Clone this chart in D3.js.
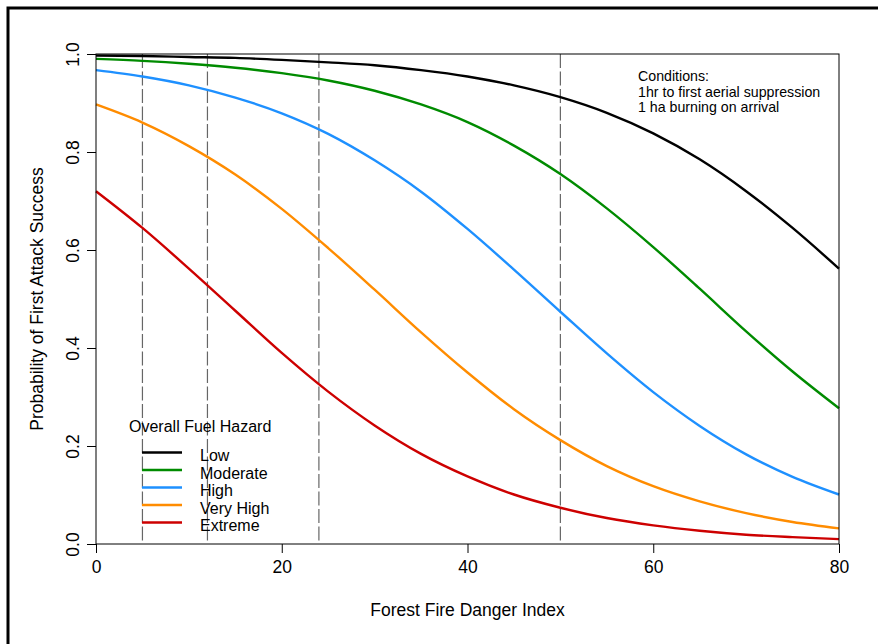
<!DOCTYPE html>
<html>
<head>
<meta charset="utf-8">
<script src="https://cdn.jsdelivr.net/npm/d3@7"></script>
<style>
  body { margin: 0; background: #fff; }
  svg { display: block; font-family: "Liberation Sans", Arial, sans-serif; }
</style>
</head>
<body>
<svg id="chart" width="878" height="644"></svg>
<script>
// FFDI sample points and probability of first attack success
const ffdi = [0, 5, 10, 15, 20, 25, 30, 35, 40, 45, 50, 55, 60, 65, 70, 75, 80];
const low = [0.997, 0.996, 0.994, 0.992, 0.988, 0.983, 0.977, 0.967, 0.954, 0.936, 0.912, 0.880, 0.838, 0.785, 0.720, 0.645, 0.562];
const moderate = [0.990, 0.986, 0.980, 0.972, 0.961, 0.946, 0.925, 0.897, 0.861, 0.813, 0.755, 0.685, 0.606, 0.521, 0.434, 0.352, 0.277];
const high = [0.967, 0.954, 0.936, 0.911, 0.879, 0.837, 0.783, 0.719, 0.643, 0.560, 0.474, 0.389, 0.310, 0.241, 0.183, 0.137, 0.101];
const veryHigh = [0.897, 0.860, 0.812, 0.754, 0.684, 0.604, 0.519, 0.432, 0.350, 0.275, 0.212, 0.159, 0.118, 0.087, 0.063, 0.045, 0.032];
const extreme = [0.720, 0.645, 0.562, 0.476, 0.390, 0.311, 0.242, 0.184, 0.138, 0.101, 0.074, 0.053, 0.038, 0.027, 0.019, 0.014, 0.010];

const seriesNames = ['Low', 'Moderate', 'High', 'Very High', 'Extreme'];
const seriesColors = ['#000000', '#008B00', '#1E90FF', '#FF8C00', '#CD0000'];
const seriesValues = [low, moderate, high, veryHigh, extreme];

const refLines = [5, 12, 24, 50];
const xTicks = [0, 20, 40, 60, 80];
const yTicks = [0, 0.2, 0.4, 0.6, 0.8, 1.0];
const conditions = ['Conditions:', '1hr to first aerial suppression', '1 ha burning on arrival'];

const svg = d3.select('#chart');

// outer frame (only top and left edges fall inside the picture)
svg.append('rect')
  .attr('x', 8).attr('y', 8)
  .attr('width', 1000).attr('height', 1000)
  .attr('fill', 'none')
  .attr('stroke', '#000')
  .attr('stroke-width', 3);

const x = d3.scaleLinear().domain([0, 80]).range([96, 839]);
const y = d3.scaleLinear().domain([0, 1]).range([544, 54]);

// dashed reference lines
svg.append('g')
  .selectAll('line')
  .data(refLines)
  .join('line')
  .attr('x1', d => x(d)).attr('x2', d => x(d))
  .attr('y1', y(1)).attr('y2', y(0))
  .attr('stroke', '#666')
  .attr('stroke-width', 1.2)
  .attr('stroke-dasharray', '14,3.5');

// curves
const line = d3.line()
  .x((d, i) => x(ffdi[i]))
  .y(d => y(d))
  .curve(d3.curveMonotoneX);

seriesValues.forEach((vals, i) => {
  svg.append('path')
    .datum(vals)
    .attr('fill', 'none')
    .attr('stroke', seriesColors[i])
    .attr('stroke-width', 2.4)
    .attr('d', line);
});

// box
svg.append('rect')
  .attr('x', x(0)).attr('y', y(1))
  .attr('width', x(80) - x(0)).attr('height', y(0) - y(1))
  .attr('fill', 'none')
  .attr('stroke', '#000')
  .attr('stroke-width', 1);

// axes
const xAxis = svg.append('g')
  .attr('transform', `translate(0,${y(0)})`)
  .call(d3.axisBottom(x).tickValues(xTicks).tickSize(9).tickPadding(8).tickFormat(d3.format('d')));
xAxis.select('.domain').remove();
xAxis.selectAll('text')
  .attr('font-size', '17.5px')
  .attr('font-family', '"Liberation Sans", Arial, sans-serif')
  .attr('fill', '#000');

const yAxis = svg.append('g')
  .attr('transform', `translate(${x(0)},0)`)
  .call(d3.axisLeft(y).tickValues(yTicks).tickSize(9).tickFormat(d3.format('.1f')));
yAxis.select('.domain').remove();
yAxis.selectAll('text')
  .attr('font-size', '17.5px')
  .attr('font-family', '"Liberation Sans", Arial, sans-serif')
  .attr('fill', '#000')
  .attr('text-anchor', 'middle')
  .attr('dy', null)
  .attr('x', null)
  .attr('transform', 'translate(-17,0) rotate(-90)');

// axis titles
svg.append('text')
  .attr('x', (x(0) + x(80)) / 2)
  .attr('y', 616)
  .attr('text-anchor', 'middle')
  .attr('font-size', '17.5px')
  .text('Forest Fire Danger Index');

svg.append('text')
  .attr('transform', `translate(43,${(y(0) + y(1)) / 2}) rotate(-90)`)
  .attr('text-anchor', 'middle')
  .attr('font-size', '17.5px')
  .text('Probability of First Attack Success');

// conditions note
svg.append('g')
  .selectAll('text')
  .data(conditions)
  .join('text')
  .attr('x', 638)
  .attr('y', (d, i) => 81 + i * 15.5)
  .attr('font-size', '14.2px')
  .text(d => d);

// legend
const legend = svg.append('g');
legend.append('text')
  .attr('x', 129)
  .attr('y', 431.5)
  .attr('font-size', '16px')
  .text('Overall Fuel Hazard');

const entries = legend.selectAll('g.entry')
  .data(seriesNames)
  .join('g')
  .attr('class', 'entry')
  .attr('transform', (d, i) => `translate(0,${461 + i * 17.5})`);

entries.append('line')
  .attr('x1', 142).attr('x2', 182)
  .attr('y1', -8.5).attr('y2', -8.5)
  .attr('stroke', (d, i) => seriesColors[i])
  .attr('stroke-width', 2.4);

entries.append('text')
  .attr('x', 200)
  .attr('font-size', '16px')
  .text(d => d);
</script>
</body>
</html>
